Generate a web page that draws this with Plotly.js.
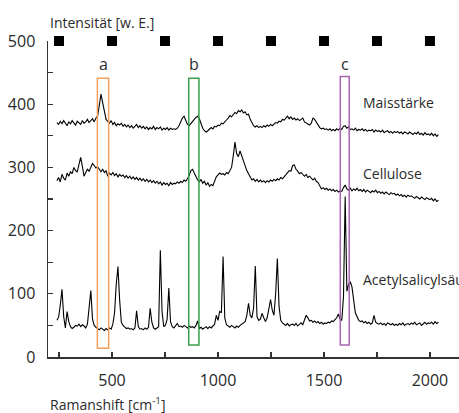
<!DOCTYPE html>
<html>
<head>
<meta charset="utf-8">
<script src="https://cdn.plot.ly/plotly-3.0.1.min.js"></script>
<style>html,body{margin:0;padding:0;background:#fff;}#chart{width:459px;height:413px;}</style>
</head>
<body>
<div id="chart"></div>
<script>
// Wavenumber sampling of the spectra [cm-1]
const wavenumberStart = 240;
const wavenumberStep = 8;

// Intensities [w. E.], one value per sample
const maisstaerke = [
 371,368,373,369,374,370,366,372,369,374,
 370,367,373,371,368,374,370,372,376,371,
 374,377,372,378,381,398,416,402,386,376,
 373,370,374,368,371,366,369,367,370,365,
 368,364,367,363,366,362,365,368,363,366,
 362,365,361,364,360,363,361,365,360,363,
 361,364,359,362,360,363,359,362,360,361,
 360,362,366,372,378,381,374,368,366,370,
 373,376,379,381,377,369,362,358,356,358,
 360,363,361,365,364,367,366,370,369,373,
 375,378,382,380,384,387,385,390,388,391,
 386,388,383,384,376,370,366,364,366,363,
 365,363,366,364,367,365,368,366,369,371,
 370,373,372,376,375,379,381,377,380,376,
 378,375,377,374,376,378,372,370,368,367,
 370,378,376,372,366,363,361,362,360,361,
 359,361,358,360,358,361,359,362,360,365,
 366,362,364,360,361,359,362,358,360,359,
 361,358,360,357,359,358,360,356,359,357,
 358,356,359,355,357,358,355,357,354,357,
 355,357,354,356,353,356,355,353,356,354,
 352,355,353,356,352,354,351,355,352,353,
 351,354,350,353,349,352
];
const cellulose = [
 279,284,277,289,283,280,291,286,293,290,
 300,295,293,305,316,302,286,292,297,294,
 300,306,303,299,301,296,293,297,292,295,
 286,291,288,292,287,290,285,289,286,288,
 284,287,283,286,282,285,281,284,280,283,
 279,282,278,281,277,280,276,279,275,278,
 274,277,272,276,273,275,271,276,273,275,
 274,277,275,278,276,280,278,282,287,295,
 297,291,284,280,277,281,275,278,272,276,
 270,273,271,280,285,288,291,289,290,288,
 292,290,294,300,318,340,322,317,326,318,
 308,301,295,290,284,280,282,278,281,277,
 280,277,279,276,279,277,280,278,281,279,
 282,280,284,282,285,288,291,295,294,303,
 304,297,294,290,292,288,286,289,284,286,
 282,280,283,278,276,270,266,268,265,267,
 264,266,263,265,262,264,261,263,262,268,
 272,266,264,267,263,266,264,267,263,265,
 262,265,261,264,262,260,263,261,264,260,
 262,259,261,258,261,259,257,260,258,259,
 256,258,255,257,254,256,253,256,254,255,
 253,251,254,252,250,253,251,249,252,250,
 249,251,247,250,246,248
];
const acetylsalicylsaeure = [
 58,63,82,107,64,46,72,56,48,45,
 47,50,49,52,48,51,49,46,52,80,
 105,60,50,47,45,43,46,44,42,45,
 43,46,44,52,70,115,143,90,55,50,
 47,45,46,44,45,43,46,73,48,44,
 45,43,46,44,47,77,55,46,44,46,
 48,169,72,48,50,60,109,56,48,46,
 50,53,48,49,47,50,48,46,49,47,
 48,46,50,57,45,47,44,46,48,45,
 48,46,50,52,66,58,72,70,159,62,
 51,49,47,50,48,46,49,47,50,52,
 53,56,66,85,66,62,78,144,64,58,
 60,69,62,56,62,75,91,74,66,100,
 156,80,58,54,52,50,53,49,51,52,
 50,53,49,52,54,51,58,66,62,57,
 58,55,57,54,56,53,55,52,54,53,
 55,54,57,56,59,62,68,60,58,95,
 254,104,115,119,111,88,70,64,58,56,
 57,54,56,53,55,52,54,66,55,53,
 52,54,51,53,50,54,52,51,53,50,
 52,50,53,51,54,50,52,53,51,54,
 52,55,51,53,54,50,53,55,52,54,
 53,55,52,56,53,55
];

const seriesNames = ['Maisstärke', 'Cellulose', 'Acetylsalicylsäure'];
const seriesLabelY = [402, 291, 122];
const seriesLabelX = 1675;

// Marked bands a, b, c
const bandLabels = ['a', 'b', 'c'];
const bandFrom = [431, 862, 1577];
const bandTo = [484, 910, 1619];
const bandLow = [14, 19, 19];
const bandHigh = [441, 441, 444];
const bandColors = ['#f2a05a', '#3c9e4e', '#a865b0'];
const bandLabelY = 464;

// Square markers on the 500 line
const squareX = [250, 500, 750, 1000, 1250, 1500, 1750, 2000];
const squareY = [500, 500, 500, 500, 500, 500, 500, 500];

// Ticks
const xTickVals = [250, 500, 750, 1000, 1250, 1500, 1750, 2000];
const xTickText = ['', '500', '', '1000', '', '1500', '', '2000'];
const yTickVals = [0, 50, 100, 150, 200, 250, 300, 350, 400, 450, 500];
const yTickText = ['0', '', '100', '', '200', '', '300', '', '400', '', '500'];

function wavenumbers(n) {
  const out = [];
  for (let i = 0; i < n; i++) out.push(wavenumberStart + wavenumberStep * i);
  return out;
}

const FONT = 'Open Sans, DejaVu Sans, sans-serif';
const TXT = '#2a2a2a';

const seriesData = [maisstaerke, cellulose, acetylsalicylsaeure];
const traces = seriesData.map((ys, k) => ({
  type: 'scatter', mode: 'lines', name: seriesNames[k],
  x: wavenumbers(ys.length), y: ys,
  line: {color: '#000', width: 1.1},
  hoverinfo: 'skip'
}));
traces.push({
  type: 'scatter', mode: 'markers', x: squareX, y: squareY,
  marker: {symbol: 'square', size: 10, color: '#000'},
  cliponaxis: false, hoverinfo: 'skip'
});

const shapes = bandLabels.map((lab, k) => ({
  type: 'rect', xref: 'x', yref: 'y',
  x0: bandFrom[k], x1: bandTo[k], y0: bandLow[k], y1: bandHigh[k],
  line: {color: bandColors[k], width: 1.5}, fillcolor: 'rgba(0,0,0,0)'
}));

const annotations = [];
bandLabels.forEach((lab, k) => annotations.push({
  xref: 'x', yref: 'y', x: (bandFrom[k] + bandTo[k]) / 2, y: bandLabelY,
  text: lab, showarrow: false, font: {family: FONT, size: 16, color: TXT}
}));
seriesNames.forEach((nm, k) => annotations.push({
  xref: 'x', yref: 'y', x: seriesLabelX, y: seriesLabelY[k],
  xanchor: 'left', yanchor: 'middle',
  text: nm, showarrow: false, font: {family: FONT, size: 14, color: TXT}
}));
annotations.push({
  xref: 'paper', yref: 'paper', x: 0, y: 1.057, xanchor: 'left', yanchor: 'middle',
  text: 'Intensität [w. E.]', showarrow: false, font: {family: FONT, size: 14, color: TXT}
});
annotations.push({
  xref: 'paper', yref: 'paper', x: 0, y: -0.148, xanchor: 'left', yanchor: 'middle',
  text: 'Ramanshift [cm<sup>-1</sup>]', showarrow: false, font: {family: FONT, size: 14, color: TXT}
});

const axisCommon = {
  showline: true, linecolor: '#333', linewidth: 1.5,
  ticks: 'inside', ticklen: 5, tickwidth: 1.2, tickcolor: '#333',
  showgrid: false, zeroline: false, tickmode: 'array',
  tickfont: {family: FONT, size: 16, color: TXT}
};

const layout = {
  width: 459, height: 413,
  margin: {l: 48, r: 0, t: 41, b: 56},
  paper_bgcolor: '#fff', plot_bgcolor: '#fff',
  showlegend: false,
  xaxis: Object.assign({}, axisCommon, {range: [198, 2137], tickvals: xTickVals, ticktext: xTickText, ticklabelstandoff: 8}),
  yaxis: Object.assign({}, axisCommon, {range: [0, 500], tickvals: yTickVals, ticktext: yTickText, ticklabelstandoff: 8}),
  shapes: shapes,
  annotations: annotations
};

Plotly.newPlot('chart', traces, layout, {staticPlot: true, displayModeBar: false});
</script>
</body>
</html>
